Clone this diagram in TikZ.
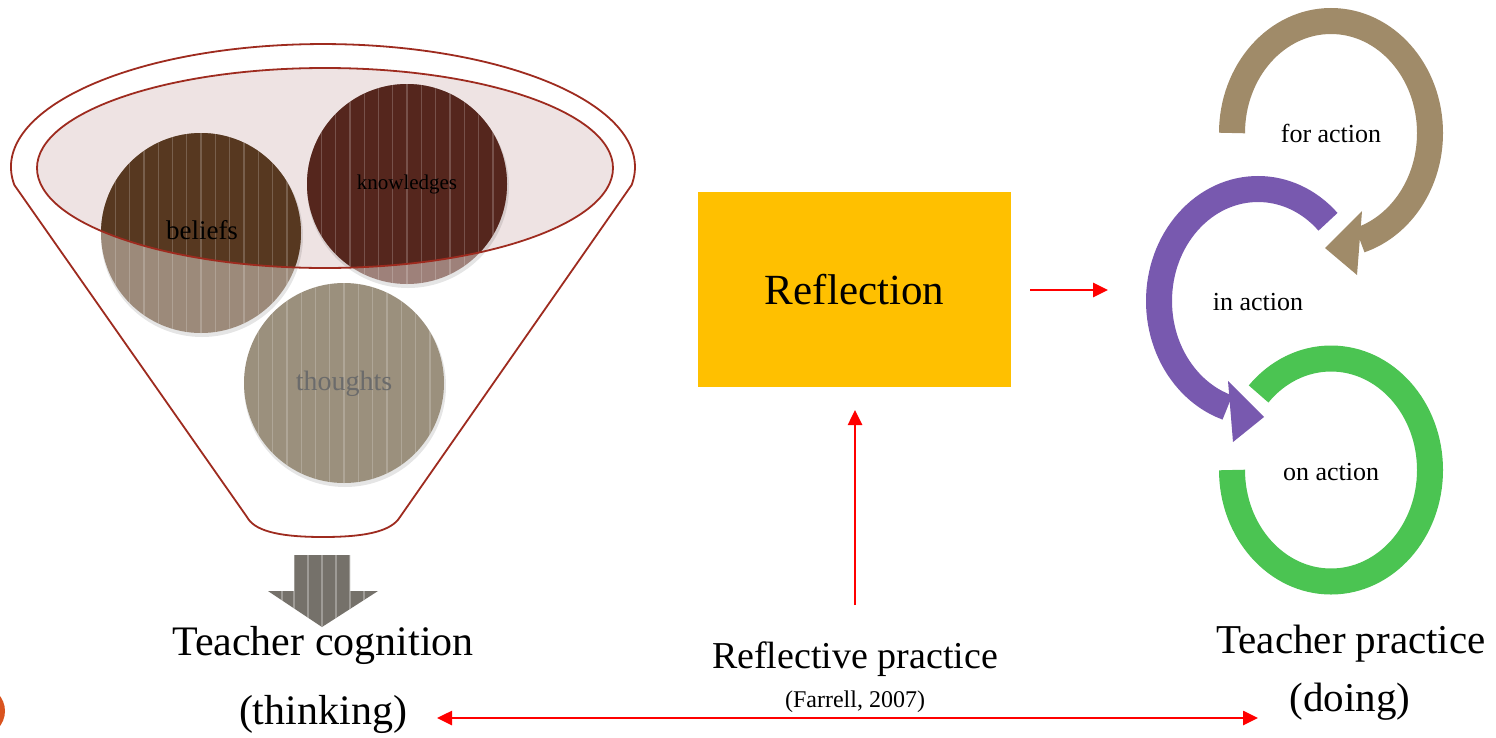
\documentclass[tikz,border=0pt]{standalone}
\usepackage{fontspec}
\setmainfont{Liberation Serif}
\usetikzlibrary{arrows.meta}
\definecolor{funnelred}{HTML}{9E2B1F}
\definecolor{ellfill}{HTML}{EEE3E3}
\definecolor{belDark}{HTML}{573820}
\definecolor{belLight}{HTML}{9C8A7A}
\definecolor{knoDark}{HTML}{55261D}
\definecolor{knoLight}{HTML}{9E817A}
\definecolor{thoCol}{HTML}{9B907D}
\definecolor{thoText}{HTML}{6B6B6B}
\definecolor{arrGray}{HTML}{75716A}
\definecolor{refYellow}{HTML}{FFC000}
\definecolor{cycBrown}{HTML}{A08B69}
\definecolor{cycPurple}{HTML}{7859AF}
\definecolor{cycGreen}{HTML}{4BC452}
\definecolor{dotOrange}{HTML}{D9531E}
\tikzset{
  lbl/.style={inner sep=0pt, anchor=base, text=black},
  redarrow/.style={draw=red, line width=2.6pt, -{Triangle[length=15pt,width=14pt]}},
  redboth/.style={draw=red, line width=2.6pt, {Triangle[length=15pt,width=14pt]}-{Triangle[length=15pt,width=14pt]}},
  cycband/.style={line width=26pt},
  stripe/.style={draw=white, opacity=0.2, line width=1.3pt},
  shade/.style={fill=black, opacity=0.10}
}
\begin{document}
\begin{tikzpicture}[x=1pt,y=-1pt]
\clip (0,0) rectangle (1496,737);
\fill[white] (0,0) rectangle (1496,737);

% orange partial circle at the left edge
\fill[dotOrange] (-20,711) circle[radius=25];

% funnel outline
\draw[funnelred, line width=1.8pt, line join=round]
  (247,517) -- (14.35,185)
  arc[start angle=171.6, end angle=368.4, x radius=312, y radius=123]
  -- (400,517) .. controls (392,530) and (370,537) .. (323,537)
  .. controls (276,537) and (254,530) .. (247,517) -- cycle;

% inner ellipse fill
\fill[ellfill] (325,168) ellipse[x radius=288, y radius=100];

% shadows of circles
\fill[shade] (202,236) circle[radius=101];
\fill[shade] (408,187) circle[radius=101];
\fill[shade] (345,386) circle[radius=101];

% beliefs circle
\fill[belLight] (201,233) circle[radius=100];
\begin{scope}
  \clip (325,168) ellipse[x radius=288, y radius=100];
  \fill[belDark] (201,233) circle[radius=100];
\end{scope}
\begin{scope}
  \clip (201,233) circle[radius=100];
  \foreach \i in {1,...,14} \draw[stripe] ({101+\i*14.3},130) -- ++(0,210);
\end{scope}

% knowledges circle
\fill[knoLight] (407,184) circle[radius=100];
\begin{scope}
  \clip (325,168) ellipse[x radius=288, y radius=100];
  \fill[knoDark] (407,184) circle[radius=100];
\end{scope}
\begin{scope}
  \clip (407,184) circle[radius=100];
  \foreach \i in {1,...,14} \draw[stripe] ({307+\i*14.3},80) -- ++(0,210);
\end{scope}

% thoughts circle
\fill[thoCol] (344,383) circle[radius=100];
\begin{scope}
  \clip (344,383) circle[radius=100];
  \foreach \i in {1,...,14} \draw[stripe] ({244+\i*14.3},280) -- ++(0,210);
\end{scope}

% inner ellipse outline
\draw[funnelred, line width=1.8pt] (325,168) ellipse[x radius=288, y radius=100];

% circle labels
\node[lbl] (beliefs) at (202,239) {\fontsize{27}{30}\selectfont beliefs};
\node[lbl] (knowledges) at (407,189) {\fontsize{21}{24}\selectfont knowledges};
\node[lbl, text=thoText] (thoughts) at (344,390) {\fontsize{28}{32}\selectfont thoughts};

% down arrow under the funnel
\fill[arrGray] (294,555) -- (350,555) -- (350,591) -- (378,591) -- (322,627) -- (268,591) -- (294,591) -- cycle;
\begin{scope}
  \clip (294,555) -- (350,555) -- (350,591) -- (378,591) -- (322,627) -- (268,591) -- (294,591) -- cycle;
  \foreach \x in {282,294,308,322,336,350,364} \draw[draw=white, opacity=0.3, line width=1.3pt] (\x,550) -- (\x,630);
\end{scope}

% Teacher cognition
\node[lbl] (tcog) at (323,655) {\fontsize{42}{48}\selectfont Teacher cognition};
\node[lbl] (think) at (323,724) {\fontsize{42}{48}\selectfont (thinking)};

% Reflection box
\node[fill=refYellow, minimum width=313pt, minimum height=195pt, inner sep=0pt] (refl) at (854.5,289.5) {\fontsize{43}{48}\selectfont Reflection};

% Reflective practice
\node[lbl] (rprac) at (855,668) {\fontsize{38}{43}\selectfont Reflective practice};
\node[lbl] (farrell) at (855,707) {\fontsize{24}{28}\selectfont (Farrell, 2007)};

% Teacher practice
\node[lbl] (tprac) at (1351,653) {\fontsize{41}{46}\selectfont Teacher practice};
\node[lbl] (doing) at (1350,711) {\fontsize{41}{46}\selectfont (doing)};

% cycle arcs
\draw[cycband, cycBrown] (1232,133) arc[start angle=180, end angle=433, x radius=99, y radius=112];
\fill[cycBrown] (1362,211) -- (1325,248) -- (1357,275) -- cycle;
\draw[cycband, cycPurple] (1328,221.8) arc[start angle=-45, end angle=-252, x radius=99, y radius=112];
\fill[cycPurple] (1228,381) -- (1264,417) -- (1233,442) -- cycle;
\draw[cycband, cycGreen] (1232,470) arc[start angle=180, end angle=-137, x radius=99, y radius=111.5];

\node[lbl] (foract) at (1331,142) {\fontsize{26}{30}\selectfont for action};
\node[lbl] (inact) at (1258,310) {\fontsize{26}{30}\selectfont in action};
\node[lbl] (onact) at (1331,480) {\fontsize{26}{30}\selectfont on action};

% red connectors
\coordinate (r1) at (1030,290);
\coordinate (r2) at (1108,290);
\draw[redarrow] (r1) -- (r2);
\coordinate (v1) at (855,605);
\coordinate (v2) at (855,410);
\draw[redarrow] (v1) -- (v2);
\coordinate (b1) at (437,718);
\coordinate (b2) at (1258,718);
\draw[redboth] (b1) -- (b2);
\end{tikzpicture}
\end{document}
